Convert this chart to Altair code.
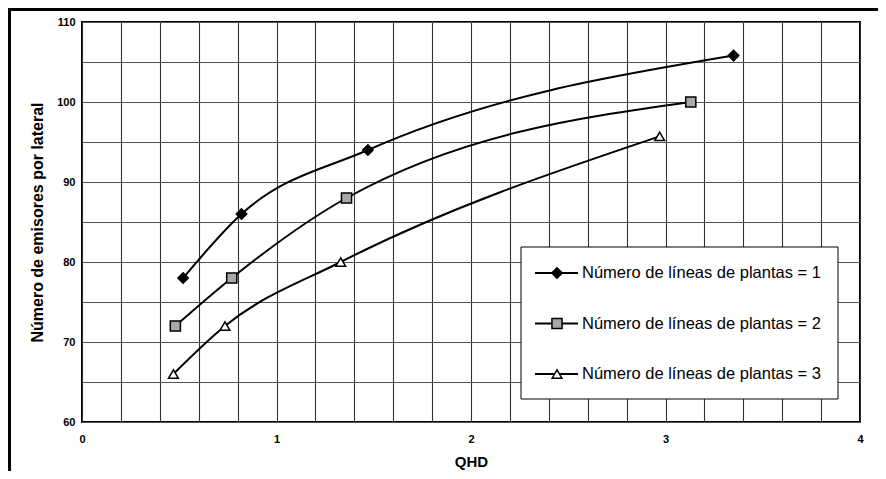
import altair as alt
import pandas as pd

# ---- data ----
series_names = [
    "Número de líneas de plantas = 1",
    "Número de líneas de plantas = 2",
    "Número de líneas de plantas = 3",
]
qhd_1 = [0.52, 0.82, 1.47, 3.35]
emis_1 = [78, 86, 94, 105.8]
qhd_2 = [0.48, 0.77, 1.36, 3.13]
emis_2 = [72, 78, 88, 100]
qhd_3 = [0.47, 0.735, 1.33, 2.97]
emis_3 = [66, 72, 80, 95.7]

x_ticks = [round(i * 0.2, 1) for i in range(21)]
y_ticks = [60 + 5 * i for i in range(11)]

marker_shapes = ["diamond", "square", "triangle-up"]
marker_fills = ["black", "#a8a8a8", "white"]
marker_sizes = [110, 95, 130]

# ---- tables ----
rows = []
for name, xs, ys in zip(series_names, [qhd_1, qhd_2, qhd_3], [emis_1, emis_2, emis_3]):
    for x, y in zip(xs, ys):
        rows.append({"serie": name, "qhd": x, "emis": y})
df = pd.DataFrame(rows)
df_leg = pd.DataFrame({"serie": series_names, "row": list(range(len(series_names)))})
df_one = pd.DataFrame({"k": [0]})

FONT = "Liberation Sans"
W, H = 778, 400

x_axis = alt.Axis(
    values=x_ticks,
    tickCount=100,
    labelExpr="abs(datum.value - round(datum.value)) < 0.001 ? format(datum.value, 'd') : ''",
    title="QHD",
    grid=True, gridColor="#333", gridWidth=1.1,
    ticks=False, tickSize=0, domain=False,
    labelPadding=11, labelFlush=False, labelOverlap=False,
    labelFont=FONT, labelFontSize=11, labelFontWeight="bold", labelColor="black",
    titleFont=FONT, titleFontSize=15, titleFontWeight="bold", titleColor="black",
    titleY=44, titleBaseline="alphabetic",
)
x_scale = alt.Scale(domain=[0, 4], nice=False, zero=False)
x_enc = alt.X("qhd:Q", scale=x_scale, axis=x_axis)

y_scale = alt.Scale(domain=[60, 110], nice=False, zero=False)
y_enc = alt.Y(
    "emis:Q",
    scale=y_scale,
    axis=alt.Axis(
        values=y_ticks,
        tickCount=100,
        labelExpr="abs(datum.value % 10) < 0.001 ? format(datum.value, 'd') : ''",
        title="Número de emisores por lateral",
        grid=True, gridColor="#555", gridWidth=1,
        ticks=False, tickSize=0, domain=False,
        labelPadding=7, labelFlush=False, labelOverlap=False,
        labelFont=FONT, labelFontSize=11, labelFontWeight="bold", labelColor="black",
        titleFont=FONT, titleFontSize=16, titleFontWeight="bold", titleColor="black",
        titleX=-40, titleBaseline="alphabetic", titleAngle=-90,
    ),
)
y_enc_noaxis = alt.Y("emis:Q", scale=y_scale, axis=None)

shape_enc = alt.Shape("serie:N", scale=alt.Scale(domain=series_names, range=marker_shapes), legend=None)
fill_enc = alt.Fill("serie:N", scale=alt.Scale(domain=series_names, range=marker_fills), legend=None)
size_enc = alt.Size("serie:N", scale=alt.Scale(domain=series_names, range=marker_sizes), legend=None)

lines = alt.Chart(df).mark_line(color="black", strokeWidth=2, interpolate="monotone").encode(
    x=x_enc, y=y_enc, detail="serie:N"
)
points = alt.Chart(df).mark_point(filled=True, stroke="black", strokeWidth=1.5, opacity=1).encode(
    x=x_enc, y=y_enc_noaxis, shape=shape_enc, fill=fill_enc, size=size_enc
)

# ---- legend box (pixel placement) ----
leg_y = alt.Y("row:Q", scale=alt.Scale(domain=[0, 2], range=[251, 352]), axis=None)
leg_box = alt.Chart(df_one).mark_rect(fill="white", stroke="black", strokeWidth=1).encode(
    x=alt.value(439), x2=alt.value(756), y=alt.value(225), y2=alt.value(377)
)
leg_lines = alt.Chart(df_leg).mark_rule(color="black", strokeWidth=2).encode(
    x=alt.value(453), x2=alt.value(496), y=leg_y
)
leg_points = alt.Chart(df_leg).mark_point(filled=True, stroke="black", strokeWidth=1.5, opacity=1).encode(
    x=alt.value(475), y=leg_y, shape=shape_enc, fill=fill_enc, size=size_enc
)
leg_text = alt.Chart(df_leg).mark_text(
    align="left", baseline="middle", font=FONT, fontSize=16.5, color="black"
).encode(x=alt.value(500), y=leg_y, text="serie:N")

# ---- outer frame of the figure ----
frame_top = alt.Chart(df_one).mark_rule(color="black", strokeWidth=3).encode(
    x=alt.value(-74), x2=alt.value(796), y=alt.value(-12.5)
)
frame_left = alt.Chart(df_one).mark_rule(color="black", strokeWidth=3).encode(
    x=alt.value(-72.5), y=alt.value(-14), y2=alt.value(449)
)

chart = (
    alt.layer(lines, points, leg_box, leg_lines, leg_points, leg_text, frame_top, frame_left)
    .resolve_scale(y="independent")
    .properties(
        width=W, height=H,
        autosize=alt.AutoSizeParams(type="none"),
        padding={"left": 74, "top": 14, "right": 18, "bottom": 49},
        background="white",
    )
    .configure_view(stroke="black", strokeWidth=2)
)

chart.save("out.html", embed_options={"renderer": "svg", "actions": False})
